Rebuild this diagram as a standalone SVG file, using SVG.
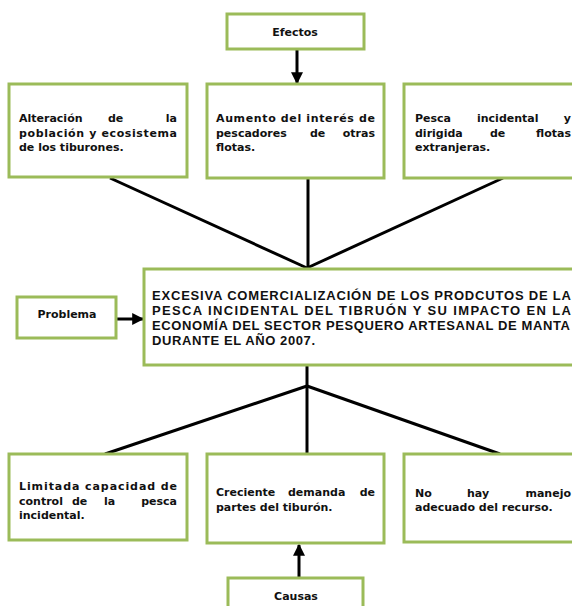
<svg xmlns="http://www.w3.org/2000/svg" width="572" height="606" viewBox="0 0 572 606">
<style>
.box{fill:#fff;stroke:#9BBB59;stroke-width:3}
.t{font-family:"DejaVu Sans","Liberation Sans",sans-serif;font-weight:bold;font-size:11px;fill:#111}
.m{font-family:"Liberation Sans",Arial,sans-serif;font-weight:bold;font-size:13px;fill:#111}
.c{text-anchor:middle}
.e{text-anchor:end}
.ln{stroke:#000;stroke-width:3;fill:none}
</style>
<defs>
<marker id="ah" viewBox="0 0 10 10" refX="9" refY="5" markerWidth="4" markerHeight="4" orient="auto">
<path d="M0,0 L10,5 L0,10 z" fill="#000"/>
</marker>
</defs>
<rect width="572" height="606" fill="#fff"/>
<g id="connectors">
<line class="ln" x1="297" y1="50" x2="297" y2="83" marker-end="url(#ah)"/>
<line class="ln" x1="110" y1="178" x2="307" y2="268"/>
<line class="ln" x1="308" y1="178" x2="308" y2="268"/>
<line class="ln" x1="503" y1="178" x2="307" y2="268"/>
<line class="ln" x1="117" y1="319" x2="143" y2="319" marker-end="url(#ah)"/>
<line class="ln" x1="307" y1="365" x2="307" y2="386"/>
<line class="ln" x1="307" y1="386" x2="105" y2="454"/>
<line class="ln" x1="307" y1="386" x2="307" y2="454"/>
<line class="ln" x1="307" y1="386" x2="500" y2="454"/>
<line class="ln" x1="299" y1="578" x2="299" y2="545" marker-end="url(#ah)"/>
</g>
<g id="efectos">
<rect class="box" x="227" y="14" width="137" height="35"/>
<text class="t c" x="295" y="36">Efectos</text>
</g>
<g id="efecto1">
<rect class="box" x="9" y="84" width="178" height="93"/>
<text class="t" x="19" y="122">Alteración</text>
<text class="t" x="108" y="122">de</text>
<text class="t e" x="177" y="122">la</text>
<text class="t" x="19" y="137" textLength="158" lengthAdjust="spacing">población y ecosistema</text>
<text class="t" x="19" y="151">de los tiburones.</text>
</g>
<g id="efecto2">
<rect class="box" x="207" y="84" width="177" height="94"/>
<text class="t" x="216" y="122" textLength="159" lengthAdjust="spacing">Aumento del interés de</text>
<text class="t" x="216" y="137">pescadores</text>
<text class="t" x="310" y="137">de</text>
<text class="t e" x="375" y="137">otras</text>
<text class="t" x="216" y="151">flotas.</text>
</g>
<g id="efecto3">
<rect class="box" x="404" y="84" width="180" height="94"/>
<text class="t" x="415" y="122">Pesca</text>
<text class="t" x="477" y="122">incidental</text>
<text class="t e" x="571" y="122">y</text>
<text class="t" x="415" y="137">dirigida</text>
<text class="t" x="490" y="137">de</text>
<text class="t e" x="571" y="137">flotas</text>
<text class="t" x="415" y="151">extranjeras.</text>
</g>
<g id="problema">
<rect class="box" x="17" y="297" width="99" height="41"/>
<text class="t c" x="67" y="318">Problema</text>
</g>
<g id="problema-central">
<rect class="box" x="144" y="269" width="440" height="96"/>
<text class="m" x="152" y="300" textLength="419" lengthAdjust="spacing">EXCESIVA COMERCIALIZACIÓN DE LOS PRODCUTOS DE LA</text>
<text class="m" x="152" y="315" textLength="419" lengthAdjust="spacing">PESCA INCIDENTAL DEL TIBRUÓN Y SU IMPACTO EN LA</text>
<text class="m" x="152" y="330" textLength="418" lengthAdjust="spacing">ECONOMÍA DEL SECTOR PESQUERO ARTESANAL DE MANTA</text>
<text class="m" x="152" y="345" textLength="163" lengthAdjust="spacing">DURANTE EL AÑO 2007.</text>
</g>
<g id="causa1">
<rect class="box" x="9" y="454" width="178" height="86"/>
<text class="t" x="19" y="490" textLength="158" lengthAdjust="spacing">Limitada capacidad de</text>
<text class="t" x="19" y="505">control</text>
<text class="t" x="72" y="505">de</text>
<text class="t" x="104" y="505">la</text>
<text class="t e" x="177" y="505">pesca</text>
<text class="t" x="19" y="519">incidental.</text>
</g>
<g id="causa2">
<rect class="box" x="207" y="454" width="177" height="89"/>
<text class="t" x="216" y="496">Creciente</text>
<text class="t" x="288" y="496">demanda</text>
<text class="t e" x="375" y="496">de</text>
<text class="t" x="216" y="511">partes del tiburón.</text>
</g>
<g id="causa3">
<rect class="box" x="404" y="454" width="180" height="88"/>
<text class="t" x="415" y="497">No</text>
<text class="t" x="467" y="497">hay</text>
<text class="t e" x="571" y="497">manejo</text>
<text class="t" x="415" y="511">adecuado del recurso.</text>
</g>
<g id="causas">
<rect class="box" x="228" y="578" width="135" height="40"/>
<text class="t c" x="296" y="600">Causas</text>
</g>
</svg>
